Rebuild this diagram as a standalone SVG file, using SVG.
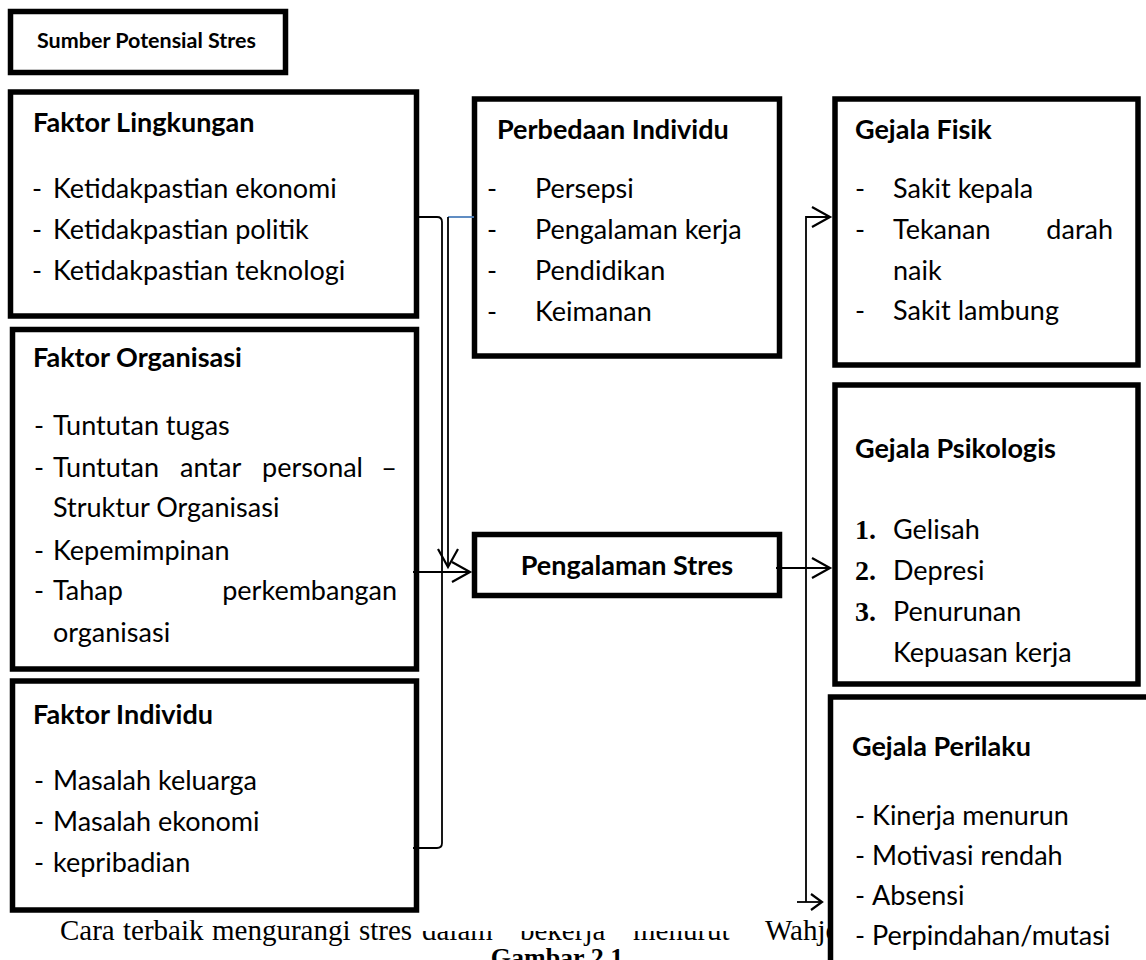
<svg xmlns="http://www.w3.org/2000/svg" width="1146" height="960" viewBox="0 0 1146 960">
<style>
.box{fill:#fff;stroke:#000;stroke-width:5.5}
.t{font-family:Lato,"Liberation Sans",sans-serif;font-size:27px;fill:#000}
.b{font-weight:bold}
.sm{font-size:21.5px}
.s{font-family:"Liberation Serif","Times New Roman",serif;fill:#000;font-size:29px}
.n{font-family:"Liberation Serif","Times New Roman",serif;fill:#000;font-size:28px;font-weight:bold}
.g{font-size:26px;font-weight:bold}
.ln{fill:none;stroke:#000;stroke-width:1.8}
.ah{fill:none;stroke:#000;stroke-width:2.2;stroke-linejoin:miter}
</style>
<defs>
<clipPath id="cut"><rect x="0" y="931" width="1146" height="40"/></clipPath>
</defs>
<rect width="1146" height="960" fill="#fff"/>

<g id="caption">
<text class="s" x="60" y="940">Cara</text>
<text class="s" x="123" y="940">terbaik</text>
<text class="s" x="212" y="940">mengurangi</text>
<text class="s" x="359" y="940">stres</text>
<g clip-path="url(#cut)">
<text class="s" x="422" y="940">dalam</text>
<text class="s" x="520" y="940">bekerja</text>
<text class="s" x="633" y="940">menurut</text>
</g>
<text class="s" x="765" y="940">Wahjo</text>
<text class="s g" x="557" y="966" text-anchor="middle">Gambar 2.1</text>
</g>

<g id="sumber">
<rect class="box" x="10.5" y="11.5" width="275" height="61"/>
<text class="t b sm" x="37" y="48">Sumber Potensial Stres</text>
</g>

<g id="faktor-lingkungan">
<rect class="box" x="10.5" y="92" width="406" height="224"/>
<text class="t b" x="33" y="132">Faktor Lingkungan</text>
<text class="t" x="32" y="198">-</text><text class="t" x="53" y="198">Ketidakpastian ekonomi</text>
<text class="t" x="32" y="239">-</text><text class="t" x="53" y="239">Ketidakpastian politik</text>
<text class="t" x="32" y="280">-</text><text class="t" x="53" y="280">Ketidakpastian teknologi</text>
</g>

<g id="faktor-organisasi">
<rect class="box" x="12.5" y="329.5" width="404" height="339.5"/>
<text class="t b" x="33" y="367">Faktor Organisasi</text>
<text class="t" x="34" y="435">-</text><text class="t" x="53" y="435">Tuntutan tugas</text>
<text class="t" x="34" y="477">-</text><text class="t" x="53" y="477">Tuntutan</text>
<text class="t" x="180" y="477">antar</text>
<text class="t" x="262" y="477">personal</text>
<text class="t" x="397" y="477" text-anchor="end">–</text>
<text class="t" x="53" y="517">Struktur Organisasi</text>
<text class="t" x="34" y="560">-</text><text class="t" x="53" y="560">Kepemimpinan</text>
<text class="t" x="34" y="600">-</text><text class="t" x="53" y="600">Tahap</text>
<text class="t" x="397" y="600" text-anchor="end">perkembangan</text>
<text class="t" x="53" y="642">organisasi</text>
</g>

<g id="faktor-individu">
<rect class="box" x="12.5" y="681" width="404" height="229"/>
<text class="t b" x="33" y="724">Faktor Individu</text>
<text class="t" x="34" y="790">-</text><text class="t" x="53" y="790">Masalah keluarga</text>
<text class="t" x="34" y="831">-</text><text class="t" x="53" y="831">Masalah ekonomi</text>
<text class="t" x="34" y="872">-</text><text class="t" x="53" y="872">kepribadian</text>
</g>

<g id="perbedaan-individu">
<rect class="box" x="474.5" y="99" width="305" height="257"/>
<text class="t b" x="497" y="139">Perbedaan Individu</text>
<text class="t" x="487" y="198">-</text><text class="t" x="535" y="198">Persepsi</text>
<text class="t" x="487" y="239">-</text><text class="t" x="535" y="239">Pengalaman kerja</text>
<text class="t" x="487" y="280">-</text><text class="t" x="535" y="280">Pendidikan</text>
<text class="t" x="487" y="321">-</text><text class="t" x="535" y="321">Keimanan</text>
</g>

<g id="pengalaman-stres">
<rect class="box" x="474.5" y="534.5" width="305" height="61"/>
<text class="t b" x="627" y="575" text-anchor="middle">Pengalaman Stres</text>
</g>

<g id="gejala-fisik">
<rect class="box" x="835" y="99" width="303" height="266"/>
<text class="t b" x="855" y="139">Gejala Fisik</text>
<text class="t" x="855" y="198">-</text><text class="t" x="893" y="198">Sakit kepala</text>
<text class="t" x="855" y="239">-</text><text class="t" x="893" y="239">Tekanan</text>
<text class="t" x="1113" y="239" text-anchor="end">darah</text>
<text class="t" x="893" y="280">naik</text>
<text class="t" x="855" y="320">-</text><text class="t" x="893" y="320">Sakit lambung</text>
</g>

<g id="gejala-psikologis">
<rect class="box" x="835" y="385" width="303" height="299"/>
<text class="t b" x="855" y="458">Gejala Psikologis</text>
<text class="n" x="855" y="539">1.</text><text class="t" x="893" y="539">Gelisah</text>
<text class="n" x="855" y="580">2.</text><text class="t" x="893" y="580">Depresi</text>
<text class="n" x="855" y="621">3.</text><text class="t" x="893" y="621">Penurunan</text>
<text class="t" x="893" y="662">Kepuasan kerja</text>
</g>

<g id="gejala-perilaku">
<rect class="box" x="830.5" y="697" width="400" height="400"/>
<text class="t b" x="852" y="756">Gejala Perilaku</text>
<text class="t" x="855" y="825">-</text><text class="t" x="872" y="825">Kinerja menurun</text>
<text class="t" x="855" y="865">-</text><text class="t" x="872" y="865">Motivasi rendah</text>
<text class="t" x="855" y="905">-</text><text class="t" x="872" y="905">Absensi</text>
<text class="t" x="855" y="945">-</text><text class="t" x="872" y="945">Perpindahan/mutasi</text>
</g>

<g id="connectors">
<path class="ln" d="M419,217 H437 Q442,217 442,222 V843 Q442,848 437,848 H413"/>
<path d="M448,217 H474" fill="none" stroke="#4f81bd" stroke-width="1.8"/>
<path class="ln" d="M448,217 V566" stroke-width="2"/>
<path class="ah" d="M438,549 L448,567 L458,549"/>
<path class="ln" d="M413,572 H469" stroke-width="2"/>
<path class="ah" d="M452,562 L470,572 L452,582"/>
<path class="ln" d="M776,568 H829" stroke-width="2"/>
<path class="ah" d="M812,558 L830,568 L812,578"/>
<path class="ln" d="M806,902 V217 H829"/>
<path class="ah" d="M812,207 L830,217 L812,227"/>
<path class="ln" d="M797,902 H821"/>
<path class="ah" d="M811,894 L822,902 L811,910"/>
</g>
</svg>
